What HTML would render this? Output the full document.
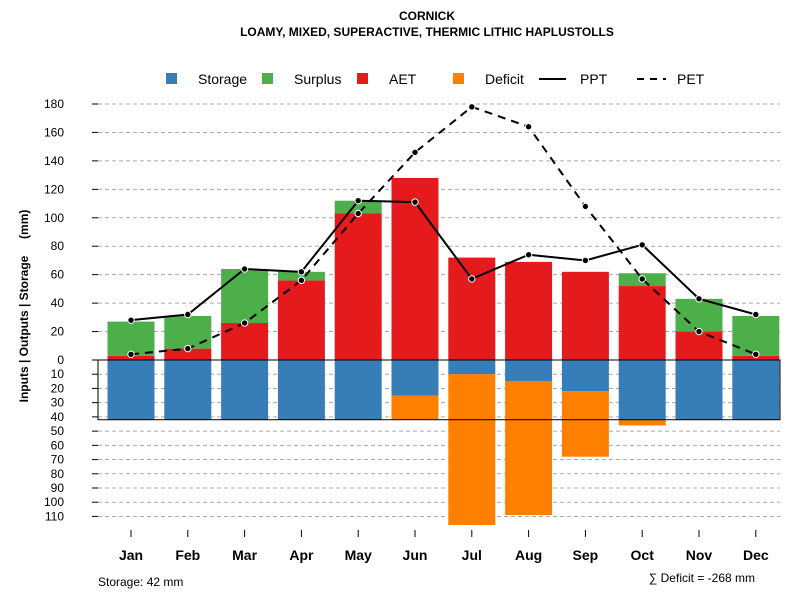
<!DOCTYPE html>
<html><head><meta charset="utf-8"><style>
body{margin:0;background:#fff}
svg text{font-family:"Liberation Sans",sans-serif}
</style></head><body>
<svg id="c" width="800" height="600">
<text x="427" y="20" text-anchor="middle" font-size="12" font-weight="bold">CORNICK</text>
<text x="427" y="36" text-anchor="middle" font-size="12" font-weight="bold">LOAMY, MIXED, SUPERACTIVE, THERMIC LITHIC HAPLUSTOLLS</text>
<g id="grid"></g>
<g id="bars"></g>
<g id="lines"></g>
<g id="axes"></g>
<text transform="translate(28,306) rotate(-90)" text-anchor="middle" font-size="12" font-weight="bold" style="white-space:pre" xml:space="preserve">Inputs | Outputs | Storage     (mm)</text>
<g font-size="14">
<rect x="166" y="73" width="11" height="11" fill="#377EB8"/><text x="198" y="84">Storage</text>
<rect x="262" y="73" width="11" height="11" fill="#4DAF4A"/><text x="294" y="84">Surplus</text>
<rect x="357" y="73" width="11" height="11" fill="#E41A1C"/><text x="389" y="84">AET</text>
<rect x="453" y="73" width="11" height="11" fill="#FF7F00"/><text x="485" y="84">Deficit</text>
<line x1="539" y1="79" x2="566" y2="79" stroke="#000" stroke-width="2"/><text x="580" y="84">PPT</text>
<line x1="637" y1="79" x2="666" y2="79" stroke="#000" stroke-width="2" stroke-dasharray="7,6"/><text x="677" y="84">PET</text>
</g>
<text x="98" y="586" font-size="12">Storage: 42 mm</text>
<text x="755" y="582" text-anchor="end" font-size="12">∑ Deficit = -268 mm</text>
</svg>
<script>
const months=["Jan","Feb","Mar","Apr","May","Jun","Jul","Aug","Sep","Oct","Nov","Dec"];
const aet=[3,8,26,56,103,128,72,69,62,52,20,3];
const surplus=[24,23,38,6,9,0,0,0,0,9,23,28];
const storage=[42,42,42,42,42,25,10,15,22,42,42,42];
const deficit=[0,0,0,0,0,17,106,94,46,4,0,0];
const ppt=[28,32,64,62,112,111,57,74,70,81,43,32];
const pet=[4,8,26,56,103,146,178,164,108,57,20,4];
const upTicks=[0,20,40,60,80,100,120,140,160,180];
const downTicks=[10,20,30,40,50,60,70,80,90,100,110];
const NS="http://www.w3.org/2000/svg";
const y0=360,k=256/180;
const yUp=v=>y0-v*k, yDn=v=>y0+v*k;
const xC=i=>131+i*56.8, bw=47;
function mk(p,t,a){const e=document.createElementNS(NS,t);for(const q in a)e.setAttribute(q,a[q]);document.getElementById(p).appendChild(e);return e;}
upTicks.forEach(v=>{
 if(v>0){const g=mk('grid','line',{x1:98,x2:780,y1:yUp(v),y2:yUp(v),stroke:'#aaa','stroke-dasharray':'4,3'});
 
 }
 const t=mk('axes','line',{x1:92,x2:98,y1:yUp(v),y2:yUp(v),stroke:'#000'});
 
 
 const l=mk('axes','text',{x:64,y:yUp(v)+4,'text-anchor':'end','font-size':12});l.textContent=v;
 
 
});
downTicks.forEach(v=>{
 const g=mk('grid','line',{x1:98,x2:780,y1:yDn(v),y2:yDn(v),stroke:'#aaa','stroke-dasharray':'4,3'});
 
 
 const t=mk('axes','line',{x1:92,x2:98,y1:yDn(v),y2:yDn(v),stroke:'#000'});
 
 
 const l=mk('axes','text',{x:64,y:yDn(v)+4,'text-anchor':'end','font-size':12});l.textContent=v;
 
 
});
months.forEach((m,i)=>{
 const x=xC(i)-bw/2;
 const a=mk('bars','rect',{x:x,y:yUp(aet[i]),width:bw,height:aet[i]*k,fill:'#E41A1C'});
 
 
 const s=mk('bars','rect',{x:x,y:yUp(aet[i]+surplus[i]),width:bw,height:surplus[i]*k,fill:'#4DAF4A'});
 
 
 const b=mk('bars','rect',{x:x,y:y0,width:bw,height:storage[i]*k,fill:'#377EB8'});
 
 
 const d=mk('bars','rect',{x:x,y:yDn(storage[i]),width:bw,height:deficit[i]*k,fill:'#FF7F00'});
 
 
 const t=mk('axes','line',{x1:xC(i),x2:xC(i),y1:530,y2:537,stroke:'#000'});
 
 
 const l=mk('axes','text',{x:xC(i),y:560,'text-anchor':'middle','font-size':14,'font-weight':'bold'});l.textContent=m;
 
 
});
const box=mk('bars','rect',{x:98,y:y0,width:682,height:42*k,fill:'none',stroke:'#000'});


function series(arr,name,dash){
 const pts=arr.map((v,i)=>xC(i)+','+yUp(v)).join(' ');
 const p=mk('lines','polyline',{points:pts,fill:'none',stroke:'#000','stroke-width':2,'stroke-dasharray':dash});
 
 
 arr.forEach((v,i)=>{const c=mk('lines','circle',{cx:xC(i),cy:yUp(v),r:3.2,fill:'#000',stroke:'#fff','stroke-width':1});
 
 });
}
series(ppt,'ppt','none');
series(pet,'pet','8,6');
</script>
</body></html>
